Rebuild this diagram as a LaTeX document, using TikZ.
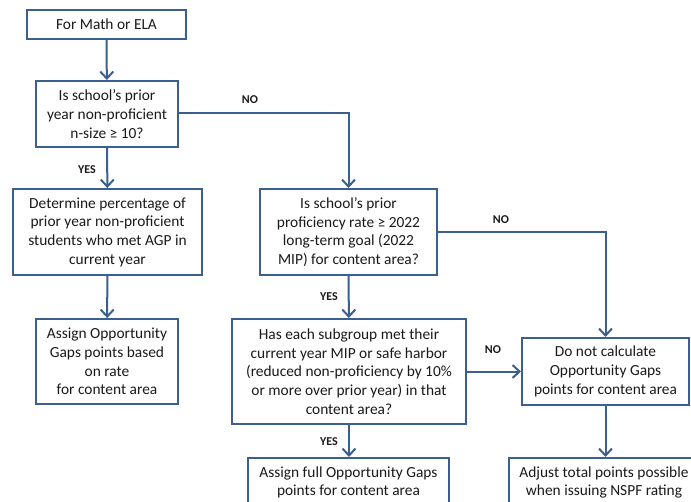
\documentclass[tikz,border=0pt]{standalone}
\usepackage{fontspec}
\setmainfont{Carlito}
\usetikzlibrary{arrows.meta}
\definecolor{edge}{HTML}{3B5F8F}
\definecolor{txt}{HTML}{1A1A1A}
\begin{document}
\begin{tikzpicture}[x=1pt,y=-1pt,
  box/.style={draw=edge,line width=2pt,fill=white,inner sep=0pt,align=center,
    text=txt,font=\fontsize{15.4}{18.7}\selectfont},
  lbl/.style={font=\fontsize{12}{13}\selectfont\bfseries,text=txt,inner sep=0pt},
  conn/.style={draw=edge,line width=2pt,-{Straight Barb[length=7pt,width=13pt,line width=2pt]}}]
\useasboundingbox (0,0) rectangle (691,501);
\clip (0,0) rectangle (691,501);
\fill[white] (0,0) rectangle (691,501);
\node[box,minimum width=159,minimum height=29] (b1) at (106.5,24.5) {For Math or ELA};
\node[box,minimum width=142,minimum height=66] (b2) at (107,114) {Is school’s prior\\year non-proficient\\n-size ≥ 10?};
\node[box,minimum width=189,minimum height=86] (b3) at (107.5,232) {Determine percentage of\\prior year non-proficient\\students who met AGP in\\current year};
\node[box,minimum width=142,minimum height=85] (b4) at (107,361.5) {Assign Opportunity\\Gaps points based\\on rate\\for content area};
\node[box,minimum width=177,minimum height=86] (b5) at (348.5,232) {Is school’s prior\\proficiency rate ≥ 2022\\long-term goal (2022\\MIP) for content area?};
\node[box,minimum width=234,minimum height=105] (b6) at (349,371.5) {Has each subgroup met their\\current year MIP or safe harbor\\(reduced non-proficiency by 10\%\\or more over prior year) in that\\content area?};
\node[box,minimum width=167,minimum height=67] (b7) at (605.5,371.5) {Do not calculate\\Opportunity Gaps\\points for content area};
\node[box,minimum width=201,minimum height=49] (b8) at (348.5,482.5) {Assign full Opportunity Gaps\\points for content area};
\node[box,minimum width=190,minimum height=49] (b9) at (604,482.5) {Adjust total points possible\\when issuing NSPF rating};
\coordinate (c1) at (348.5,113);
\coordinate (c2) at (605.5,232);
\draw[conn] (b1) -- (b2);
\draw[conn] (b2.east |- c1) -- (c1) -- (b5.north);
\draw[conn] (b2) -- (b3);
\draw[conn] (b3) -- (b4);
\draw[conn] (b5.east) -- (c2) -- (b7.north);
\draw[conn] (b5) -- (b6);
\draw[conn] (b6.east) -- (b7.west);
\draw[conn] (b6.south) -- (b6.south |- b8.north);
\draw[conn] (b7.south) -- (b7.south |- b9.north);
\node[lbl] (n1) at (250,100) {NO};
\node[lbl] (y1) at (87,170) {YES};
\node[lbl] (n2) at (501,220) {NO};
\node[lbl] (y2) at (329,297) {YES};
\node[lbl] (n3) at (493,350) {NO};
\node[lbl] (y3) at (329,442) {YES};
\end{tikzpicture}
\end{document}
